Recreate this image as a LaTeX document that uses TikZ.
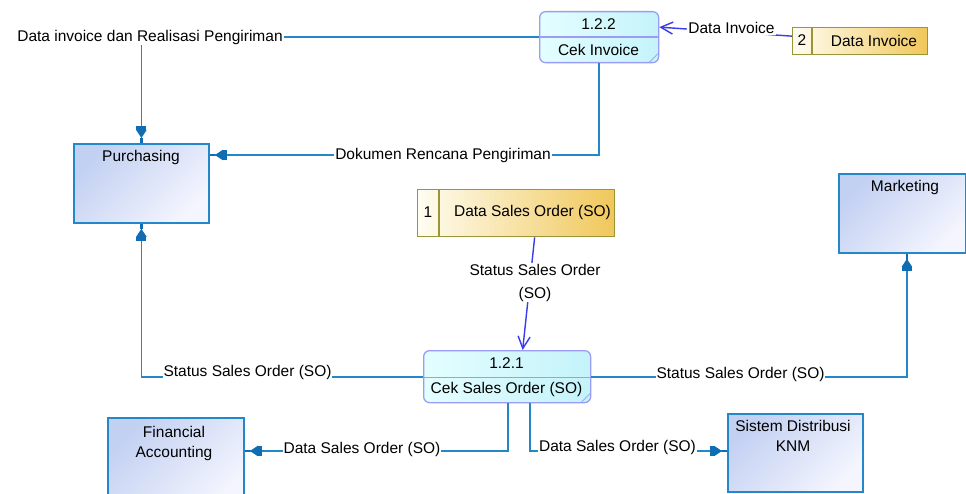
\documentclass[tikz,border=0pt]{standalone}
\usepackage{fontspec}
\setmainfont{Liberation Sans}
\usetikzlibrary{arrows.meta,calc}

\definecolor{entline}{HTML}{2388C9}
\definecolor{enttip}{HTML}{0F6DB3}
\definecolor{entA}{HTML}{C2D0F2}
\definecolor{entB}{HTML}{F4F5FE}
\definecolor{procline}{HTML}{9A9CF6}
\definecolor{procA}{HTML}{E4FEFF}
\definecolor{procB}{HTML}{C4F3FA}
\definecolor{storeline}{HTML}{9A9638}
\definecolor{storeA}{HTML}{FFFDF2}
\definecolor{storeB}{HTML}{F0C75A}
\definecolor{dfline}{HTML}{3A3AF0}

\tikzset{
  txt/.style={font=\fontsize{15.5pt}{18pt}\selectfont, text=black, inner sep=0pt},
  entity/.style={draw=entline, line width=1.8pt, rectangle, anchor=north west,
    inner sep=0pt, top color=entA, bottom color=entB, shading angle=45},
  proc/.style={draw=procline, line width=1.3pt, rounded corners=6pt, anchor=north west,
    inner sep=0pt, left color=procA, right color=procB},
  procsep/.style={draw=procline, line width=1.3pt},
  fold/.style={draw=procline, line width=0.6pt},
  store/.style={draw=storeline, line width=1.3pt, rectangle, anchor=north west,
    inner sep=0pt, left color=storeA, right color=storeB},
  storesep/.style={draw=storeline, line width=1.3pt},
  flab/.style={txt, fill=white, inner sep=1pt},
  eflow/.style={draw=entline, line width=1.8pt,
    -{Rectangle[length=4pt,width=10pt,sep=0pt,color=enttip]
      Triangle[length=8pt,width=10pt,sep=0pt,color=enttip]
      Rectangle[length=5pt,width=2.5pt,sep=0pt,color=enttip]}},
  dflow/.style={draw=dfline, line width=1.4pt,
    -{Straight Barb[length=12pt,width=12pt]}},
}

\begin{document}
\begin{tikzpicture}[x=1pt,y=-1pt]
\useasboundingbox (0,0) rectangle (966,494);
\fill[white] (0,0) rectangle (966,494);

% external entities
\node[entity, minimum width=135pt, minimum height=79pt] (pur) at (73,143) {};
\node[txt] (purt) at (141,157) {Purchasing};
\node[entity, minimum width=127pt, minimum height=79pt] (mkt) at (838,173) {};
\node[txt] (mktt) at (905,187) {Marketing};
\node[entity, minimum width=136pt, minimum height=90pt] (fin) at (107,417) {};
\node[txt, align=center, font=\fontsize{15.5pt}{20pt}\selectfont] (fint) at (174,443) {Financial\\Accounting};
\node[entity, minimum width=135pt, minimum height=78pt] (sd) at (727,413) {};
\node[txt, align=center, font=\fontsize{15.5pt}{20pt}\selectfont] (sdt) at (793,436) {Sistem Distribusi\\KNM};

% processes
\node[proc, minimum width=119pt, minimum height=51pt] (p122) at (539,11) {};
\draw[procsep] (p122.west) -- (p122.east);
\draw[fold] ($(p122.south east)+(-10,-1)$) -- ($(p122.south east)+(-1,-10)$);
\node[txt] (p122n) at (598.5,24) {1.2.2};
\node[txt] (p122t) at (598.5,50) {Cek Invoice};

\node[proc, minimum width=167pt, minimum height=52pt] (p121) at (423,350) {};
\draw[procsep] ($(p121.west)+(0,1)$) -- ($(p121.east)+(0,1)$);
\draw[fold] ($(p121.south east)+(-10,-1)$) -- ($(p121.south east)+(-1,-10)$);
\node[txt] (p121n) at (506.5,363) {1.2.1};
\node[txt] (p121t) at (506.5,389) {Cek Sales Order (SO)};

% data stores
\node[store, minimum width=135pt, minimum height=27pt] (ds2) at (792,27) {};
\draw[storesep] ($(ds2.north west)+(20,0)$) -- ($(ds2.south west)+(20,0)$);
\node[txt] (ds2n) at (802,40.5) {2};
\node[txt] (ds2t) at (874,40.5) {Data Invoice};

\node[store, minimum width=197pt, minimum height=47pt] (ds1) at (417,189) {};
\draw[storesep] ($(ds1.north west)+(22,0)$) -- ($(ds1.south west)+(22,0)$);
\node[txt] (ds1n) at (428,212.5) {1};
\node[txt] (ds1t) at (532.5,212.5) {Data Sales Order (SO)};

% flows
\draw[eflow] (p122.west) -| (pur.north);
\node[flab] (l1) at (150,37) {Data invoice dan Realisasi Pengiriman};

\draw[eflow] (p122.south) |- ($(pur.north east)+(0,12)$);
\node[flab] (l2) at (443,155) {Dokumen Rencana Pengiriman};

\draw[dflow] ($(ds2.west)+(0,-5)$) -- ($(p122.east)+(0,-10)$);
\node[flab] (l3) at (731.5,28) {Data Invoice};

\draw[dflow] ($(ds1.south)+(18.5,0)$) -- ($(p121.north)+(15.5,0)$);
\node[flab, align=center, font=\fontsize{15.5pt}{23pt}\selectfont] (l4) at (535,282.5) {Status Sales Order\\(SO)};

\draw[eflow] (p121.west) -| (pur.south);
\node[flab] (l5) at (247.5,372) {Status Sales Order (SO)};

\draw[eflow] (p121.east) -| ($(mkt.south)+(4.5,0)$);
\node[flab] (l6) at (740.5,374) {Status Sales Order (SO)};

\draw[eflow] ($(p121.south)+(0.5,0)$) |- ($(fin.north east)+(0,34)$);
\node[flab] (l7) at (362,449) {Data Sales Order (SO)};

\draw[eflow] ($(p121.south)+(22.5,0)$) |- ($(sd.north west)+(0,38)$);
\node[flab] (l8) at (617.5,447) {Data Sales Order (SO)};
\end{tikzpicture}
\end{document}
